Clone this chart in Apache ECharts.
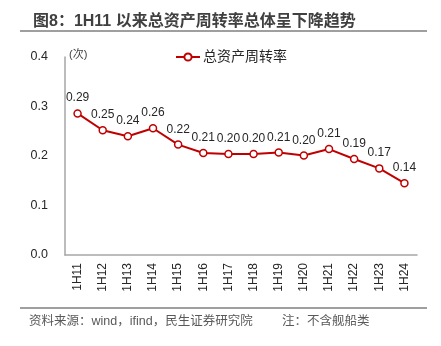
<!DOCTYPE html>
<html><head><meta charset="utf-8">
<script src="https://cdn.jsdelivr.net/npm/echarts@6/dist/echarts.min.js"></script>
<style>html,body{margin:0;padding:0;background:#fff}#c{width:441px;height:346px}</style>
</head><body><div id="c"></div>
<script>
const categories = ['1H11','1H12','1H13','1H14','1H15','1H16','1H17','1H18','1H19','1H20','1H21','1H22','1H23','1H24'];
const turnover = [0.286,0.252,0.240,0.256,0.223,0.206,0.204,0.204,0.207,0.201,0.214,0.194,0.175,0.145];
const yTicks = [0, 0.1, 0.2, 0.3, 0.4];
const seriesName = '总资产周转率';
const titleText = '图8：1H11 以来总资产周转率总体呈下降趋势';
const sourceText = '资料来源：wind，ifind，民生证券研究院';
const noteText = '注：不含舰船类';
const unitText = '(次)';

const cjk = '"Liberation Sans", "Noto Sans CJK SC", sans-serif';
const chart = echarts.init(document.getElementById('c'));
chart.setOption({
  animation: false,
  textStyle: { fontFamily: cjk },
  title: {
    text: titleText, left: 28, top: 9,
    textStyle: { fontSize: 16, fontWeight: 'bold', color: '#404040', fontFamily: cjk }
  },
  graphic: [
    { type: 'line', shape: { x1: 20, y1: 31, x2: 427, y2: 31 }, style: { stroke: '#7f7f7f', lineWidth: 1.5 } },
    { type: 'line', shape: { x1: 20, y1: 308, x2: 427, y2: 308 }, style: { stroke: '#7f7f7f', lineWidth: 1.5 } },
    { type: 'text', left: 29, top: 315, style: { text: sourceText, fontSize: 12.5, fill: '#595959', fontFamily: cjk } },
    { type: 'text', left: 282, top: 315, style: { text: noteText, fontSize: 12.5, fill: '#595959', fontFamily: cjk } },
    { type: 'text', left: 69, top: 49, style: { text: unitText, fontSize: 11, fill: '#404040', fontFamily: cjk } }
  ],
  legend: {
    data: [seriesName], left: 170, top: 45, itemWidth: 24, itemHeight: 9, itemGap: 4,
    textStyle: { fontSize: 14, color: '#262626', fontFamily: cjk, padding: [0, 0, 0, -2] }
  },
  grid: { left: 65, right: 24, top: 57, bottom: 91, containLabel: false },
  xAxis: {
    type: 'category', data: categories, boundaryGap: true,
    axisLine: { lineStyle: { color: '#a6a6a6', width: 1.5 } },
    axisTick: { show: false },
    axisLabel: { rotate: 90, fontSize: 12, color: '#262626', margin: 8, fontFamily: 'Liberation Sans' }
  },
  yAxis: {
    type: 'value', min: yTicks[0], max: yTicks[yTicks.length - 1], interval: 0.1,
    axisLine: { show: true, lineStyle: { color: '#a6a6a6', width: 1.5 } },
    axisTick: { show: false },
    splitLine: { show: false },
    axisLabel: { fontSize: 12.5, color: '#262626', margin: 17, fontFamily: 'Liberation Sans',
      formatter: v => v.toFixed(1) }
  },
  series: [{
    name: seriesName, type: 'line', data: turnover,
    lineStyle: { color: '#C00000', width: 2 },
    itemStyle: { color: '#fff', borderColor: '#C00000', borderWidth: 1.5 },
    symbol: 'circle', symbolSize: 7, showAllSymbol: true,
    label: { show: true, position: 'top', distance: 5, fontSize: 12, color: '#262626',
      fontFamily: 'Liberation Sans', formatter: p => p.value.toFixed(2) }
  }]
});
</script></body></html>
